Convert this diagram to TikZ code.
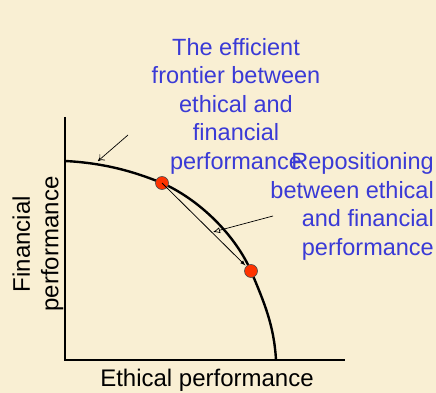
\documentclass[tikz,border=0pt]{standalone}
\usepackage{fontspec}
\setmainfont{Liberation Sans}
\usetikzlibrary{arrows.meta}
\definecolor{cream}{HTML}{F9EFD3}
\definecolor{txtblue}{HTML}{3A3AD6}
\definecolor{dotred}{HTML}{FF3300}
\tikzset{
  bluetext/.style={text=txtblue,font=\fontsize{23.5}{28.5}\selectfont,inner sep=0pt},
  blacktext/.style={font=\fontsize{24}{28.5}\selectfont,inner sep=0pt},
  reddot/.style={circle,draw=black!70,fill=dotred,line width=.6pt,minimum size=13pt,inner sep=0pt},
}
\begin{document}
\begin{tikzpicture}[>=latex,x=1pt,y=-1pt]
\fill[cream](0,0)rectangle(436,393);
\useasboundingbox(0,0)rectangle(436,393);
% axes
\coordinate(top)at(65,117);
\coordinate(origin)at(65,360);
\coordinate(right)at(345,360);
\draw[line width=2.6pt,line join=miter](top)--(origin)--(right);
\node[blacktext,anchor=base](xlab)at(207,386){Ethical performance};
\node[blacktext,rotate=90,align=center](ylab)at(38,244){Financial\\performance};
% frontier
\draw[line width=2.4pt](65,161)..controls(105,163)and(135,172)..(162,183)
  ..controls(200,200)and(235,235)..(251,271)
  ..controls(264,302)and(274,325)..(276,360);
\node[reddot](d1)at(162,183){};
\node[reddot](d2)at(251,271){};
\draw[->,line width=.8pt,shorten >=1pt](d1.center)--(d2);
% labels
\node[bluetext,align=center,anchor=base](frontier)at(236,169){The efficient\\frontier between\\ethical and\\financial\\performance};
\node[bluetext,align=right,anchor=base east](repos)at(434,255){Repositioning\\between ethical\\and financial\\performance};
\coordinate(p1)at(128,135);
\coordinate(p1e)at(98,161);
\draw[-{To[length=6pt,width=8pt]},line width=.7pt](p1)--(p1e);
\coordinate(p2)at(273,216);
\coordinate(p2e)at(213,232);
\draw[-{Latex[open,length=7pt,width=6pt]},line width=.7pt](p2)--(p2e);
\end{tikzpicture}
\end{document}
